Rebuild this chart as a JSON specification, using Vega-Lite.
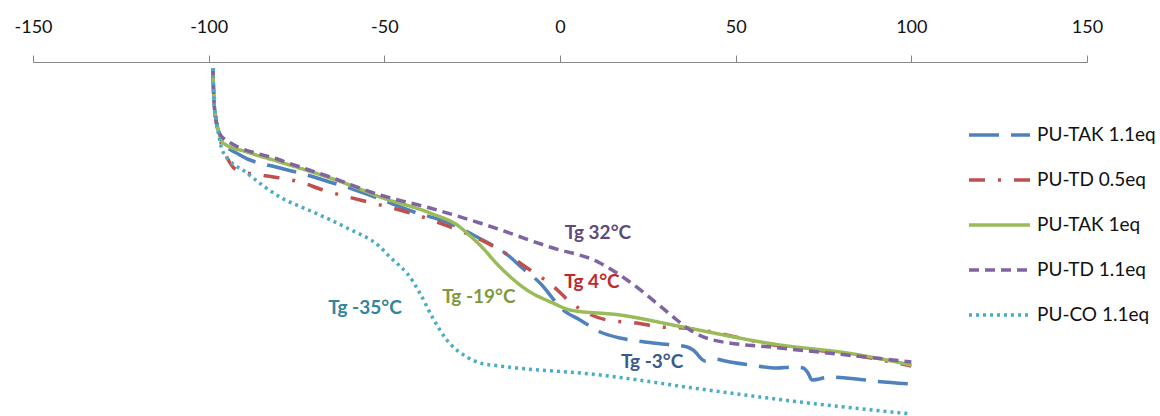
{
  "$schema": "https://vega.github.io/schema/vega-lite/v6.json",
  "width": 1054,
  "height": 354,
  "autosize": {"type": "none"},
  "padding": {"left": 33, "top": 62, "right": 73, "bottom": 0},
  "background": "white",
  "config": {"view": {"stroke": null}, "font": "Lato"},
  "datasets": {
    "curves": [
      {"sample":"PU-TAK 1.1eq","temp":-98.8,"flow":348},{"sample":"PU-TAK 1.1eq","temp":-98.5,"flow":316},{"sample":"PU-TAK 1.1eq","temp":-97.9,"flow":296},{"sample":"PU-TAK 1.1eq","temp":-97.1,"flow":284},{"sample":"PU-TAK 1.1eq","temp":-95.9,"flow":274},{"sample":"PU-TAK 1.1eq","temp":-91.1,"flow":261},{"sample":"PU-TAK 1.1eq","temp":-79.7,"flow":248},{"sample":"PU-TAK 1.1eq","temp":-72.0,"flow":241},{"sample":"PU-TAK 1.1eq","temp":-64.6,"flow":233},{"sample":"PU-TAK 1.1eq","temp":-59.8,"flow":228},{"sample":"PU-TAK 1.1eq","temp":-52.1,"flow":218},{"sample":"PU-TAK 1.1eq","temp":-40.7,"flow":203},{"sample":"PU-TAK 1.1eq","temp":-32.2,"flow":194},{"sample":"PU-TAK 1.1eq","temp":-23.6,"flow":179},{"sample":"PU-TAK 1.1eq","temp":-14.2,"flow":159},{"sample":"PU-TAK 1.1eq","temp":-11.4,"flow":150},{"sample":"PU-TAK 1.1eq","temp":-5.7,"flow":133},{"sample":"PU-TAK 1.1eq","temp":0.9,"flow":106},{"sample":"PU-TAK 1.1eq","temp":5.7,"flow":96},{"sample":"PU-TAK 1.1eq","temp":11.4,"flow":84},{"sample":"PU-TAK 1.1eq","temp":17.1,"flow":78},{"sample":"PU-TAK 1.1eq","temp":26.5,"flow":73},{"sample":"PU-TAK 1.1eq","temp":36.2,"flow":69},{"sample":"PU-TAK 1.1eq","temp":37.9,"flow":66},{"sample":"PU-TAK 1.1eq","temp":41.3,"flow":55},{"sample":"PU-TAK 1.1eq","temp":43.6,"flow":57},{"sample":"PU-TAK 1.1eq","temp":48.4,"flow":54},{"sample":"PU-TAK 1.1eq","temp":54.1,"flow":51},{"sample":"PU-TAK 1.1eq","temp":61.8,"flow":48},{"sample":"PU-TAK 1.1eq","temp":66.3,"flow":49},{"sample":"PU-TAK 1.1eq","temp":69.2,"flow":48},{"sample":"PU-TAK 1.1eq","temp":70.6,"flow":43},{"sample":"PU-TAK 1.1eq","temp":71.7,"flow":36},{"sample":"PU-TAK 1.1eq","temp":76.9,"flow":39},{"sample":"PU-TAK 1.1eq","temp":84.5,"flow":37},{"sample":"PU-TAK 1.1eq","temp":89.1,"flow":35},{"sample":"PU-TAK 1.1eq","temp":100,"flow":32},

      {"sample":"PU-TD 0.5eq","temp":-98.8,"flow":348},{"sample":"PU-TD 0.5eq","temp":-98.5,"flow":316},{"sample":"PU-TD 0.5eq","temp":-97.9,"flow":296},{"sample":"PU-TD 0.5eq","temp":-97.1,"flow":281},{"sample":"PU-TD 0.5eq","temp":-95.9,"flow":268},{"sample":"PU-TD 0.5eq","temp":-93.1,"flow":249},{"sample":"PU-TD 0.5eq","temp":-92.0,"flow":246},{"sample":"PU-TD 0.5eq","temp":-79.7,"flow":238},{"sample":"PU-TD 0.5eq","temp":-74.0,"flow":234},{"sample":"PU-TD 0.5eq","temp":-67.5,"flow":226},{"sample":"PU-TD 0.5eq","temp":-56.9,"flow":216},{"sample":"PU-TD 0.5eq","temp":-43.6,"flow":204},{"sample":"PU-TD 0.5eq","temp":-34.2,"flow":193},{"sample":"PU-TD 0.5eq","temp":-17.1,"flow":166},{"sample":"PU-TD 0.5eq","temp":-8.5,"flow":146},{"sample":"PU-TD 0.5eq","temp":-2.0,"flow":130},{"sample":"PU-TD 0.5eq","temp":2.9,"flow":114},{"sample":"PU-TD 0.5eq","temp":13.4,"flow":96},{"sample":"PU-TD 0.5eq","temp":21.9,"flow":93},{"sample":"PU-TD 0.5eq","temp":28.5,"flow":89},{"sample":"PU-TD 0.5eq","temp":35.0,"flow":88},{"sample":"PU-TD 0.5eq","temp":62.6,"flow":70},{"sample":"PU-TD 0.5eq","temp":81.7,"flow":62},{"sample":"PU-TD 0.5eq","temp":100,"flow":50},

      {"sample":"PU-TAK 1eq","temp":-98.8,"flow":348},{"sample":"PU-TAK 1eq","temp":-98.5,"flow":316},{"sample":"PU-TAK 1eq","temp":-97.9,"flow":296},{"sample":"PU-TAK 1eq","temp":-97.1,"flow":284},{"sample":"PU-TAK 1eq","temp":-95.9,"flow":273},{"sample":"PU-TAK 1eq","temp":-89.1,"flow":264},{"sample":"PU-TAK 1eq","temp":-79.7,"flow":254},{"sample":"PU-TAK 1eq","temp":-60.6,"flow":232},{"sample":"PU-TAK 1eq","temp":-51.2,"flow":219},{"sample":"PU-TAK 1eq","temp":-37.0,"flow":203},{"sample":"PU-TAK 1eq","temp":-28.5,"flow":189},{"sample":"PU-TAK 1eq","temp":-26.5,"flow":183},{"sample":"PU-TAK 1eq","temp":-22.8,"flow":171},{"sample":"PU-TAK 1eq","temp":-17.1,"flow":149},{"sample":"PU-TAK 1eq","temp":-9.4,"flow":126},{"sample":"PU-TAK 1eq","temp":-2.0,"flow":113},{"sample":"PU-TAK 1eq","temp":2.9,"flow":106},{"sample":"PU-TAK 1eq","temp":17.1,"flow":101},{"sample":"PU-TAK 1eq","temp":35.0,"flow":89},{"sample":"PU-TAK 1eq","temp":62.6,"flow":71},{"sample":"PU-TAK 1eq","temp":81.7,"flow":63},{"sample":"PU-TAK 1eq","temp":100,"flow":51},

      {"sample":"PU-TD 1.1eq","temp":-98.8,"flow":348},{"sample":"PU-TD 1.1eq","temp":-98.5,"flow":316},{"sample":"PU-TD 1.1eq","temp":-97.9,"flow":296},{"sample":"PU-TD 1.1eq","temp":-97.1,"flow":284},{"sample":"PU-TD 1.1eq","temp":-95.9,"flow":278},{"sample":"PU-TD 1.1eq","temp":-79.7,"flow":256},{"sample":"PU-TD 1.1eq","temp":-65.5,"flow":239},{"sample":"PU-TD 1.1eq","temp":-51.2,"flow":221},{"sample":"PU-TD 1.1eq","temp":-37.0,"flow":208},{"sample":"PU-TD 1.1eq","temp":-22.8,"flow":193},{"sample":"PU-TD 1.1eq","temp":-2.9,"flow":169},{"sample":"PU-TD 1.1eq","temp":11.4,"flow":153},{"sample":"PU-TD 1.1eq","temp":19.1,"flow":136},{"sample":"PU-TD 1.1eq","temp":28.5,"flow":110},{"sample":"PU-TD 1.1eq","temp":33.3,"flow":96},{"sample":"PU-TD 1.1eq","temp":37.0,"flow":86},{"sample":"PU-TD 1.1eq","temp":43.6,"flow":76},{"sample":"PU-TD 1.1eq","temp":62.6,"flow":68},{"sample":"PU-TD 1.1eq","temp":81.7,"flow":61},{"sample":"PU-TD 1.1eq","temp":100,"flow":54},

      {"sample":"PU-CO 1.1eq","temp":-98.8,"flow":348},{"sample":"PU-CO 1.1eq","temp":-98.5,"flow":316},{"sample":"PU-CO 1.1eq","temp":-97.9,"flow":296},{"sample":"PU-CO 1.1eq","temp":-97.1,"flow":280},{"sample":"PU-CO 1.1eq","temp":-95.9,"flow":264},{"sample":"PU-CO 1.1eq","temp":-89.1,"flow":243},{"sample":"PU-CO 1.1eq","temp":-79.7,"flow":219},{"sample":"PU-CO 1.1eq","temp":-70.3,"flow":204},{"sample":"PU-CO 1.1eq","temp":-60.6,"flow":188},{"sample":"PU-CO 1.1eq","temp":-51.2,"flow":169},{"sample":"PU-CO 1.1eq","temp":-48.4,"flow":159},{"sample":"PU-CO 1.1eq","temp":-45.6,"flow":150},{"sample":"PU-CO 1.1eq","temp":-43.6,"flow":143},{"sample":"PU-CO 1.1eq","temp":-39.9,"flow":123},{"sample":"PU-CO 1.1eq","temp":-36.2,"flow":98},{"sample":"PU-CO 1.1eq","temp":-32.2,"flow":76},{"sample":"PU-CO 1.1eq","temp":-26.5,"flow":59},{"sample":"PU-CO 1.1eq","temp":-22.8,"flow":53},{"sample":"PU-CO 1.1eq","temp":-17.1,"flow":50},{"sample":"PU-CO 1.1eq","temp":11.4,"flow":41},{"sample":"PU-CO 1.1eq","temp":39.9,"flow":27},{"sample":"PU-CO 1.1eq","temp":68.3,"flow":14},{"sample":"PU-CO 1.1eq","temp":100,"flow":2}
    ],
    "labels": [
      {"sample":"PU-TD 1.1eq","temp":10.8,"flow":183,"label":"Tg 32°C"},
      {"sample":"PU-TD 0.5eq","temp":9.1,"flow":134,"label":"Tg 4°C"},
      {"sample":"PU-TAK 1eq","temp":-23.1,"flow":119,"label":"Tg -19°C"},
      {"sample":"PU-CO 1.1eq","temp":-55.5,"flow":108,"label":"Tg -35°C"},
      {"sample":"PU-TAK 1.1eq","temp":26.2,"flow":54,"label":"Tg -3°C"}
    ]
  },
  "layer": [
    {
      "data": {"name": "curves"},
      "mark": {"type": "line", "strokeWidth": 3.5, "interpolate": "monotone"},
      "encoding": {
        "x": {"field": "temp", "type": "quantitative", "scale": {"domain": [-150, 150], "nice": false},
          "axis": {"orient": "top", "title": null, "values": [-150, -100, -50, 0, 50, 100, 150], "grid": false,
            "domainColor": "#868686", "tickColor": "#868686", "tickSize": 7, "labelPadding": 19,
            "labelFontSize": 18, "labelFont": "Lato", "labelColor": "#111111", "labelFlush": false, "labelOverlap": false,
            "labelExpr": "replace(datum.label, '−', '-')"}},
        "y": {"field": "flow", "type": "quantitative", "scale": {"domain": [0, 354], "nice": false, "zero": false}, "axis": null},
        "color": {"field": "sample", "type": "nominal",
          "scale": {"domain": ["PU-TAK 1.1eq", "PU-TD 0.5eq", "PU-TAK 1eq", "PU-TD 1.1eq", "PU-CO 1.1eq"],
            "range": ["#4F81BD", "#C0504D", "#9BBB59", "#8064A2", "#4BACC6"]},
          "legend": {"orient": "none", "legendX": 934, "legendY": 63, "title": null, "symbolType": "stroke",
            "symbolSize": 3721, "symbolStrokeWidth": 3.5, "labelFontSize": 19, "labelFont": "Lato", "labelColor": "#111111",
            "rowPadding": 25, "labelOffset": 5, "clipHeight": 20}},
        "strokeDash": {"field": "sample", "type": "nominal",
          "scale": {"domain": ["PU-TAK 1.1eq", "PU-TD 0.5eq", "PU-TAK 1eq", "PU-TD 1.1eq", "PU-CO 1.1eq"],
            "range": [[30, 12], [16, 13, 3, 13], [1, 0], [10, 6], [3, 4]]},
          "legend": {"orient": "none", "legendX": 934, "legendY": 63, "title": null, "symbolType": "stroke",
            "symbolSize": 3721, "symbolStrokeWidth": 3.5, "labelFontSize": 19, "labelFont": "Lato", "labelColor": "#111111",
            "rowPadding": 25, "labelOffset": 5, "clipHeight": 20}}
      }
    },
    {
      "data": {"name": "labels"},
      "mark": {"type": "text", "fontSize": 19, "fontWeight": "bold", "font": "Lato", "align": "center", "baseline": "middle"},
      "encoding": {
        "x": {"field": "temp", "type": "quantitative"},
        "y": {"field": "flow", "type": "quantitative"},
        "text": {"field": "label"},
        "fill": {"field": "sample", "type": "nominal",
          "scale": {"domain": ["PU-TAK 1.1eq", "PU-TD 0.5eq", "PU-TAK 1eq", "PU-TD 1.1eq", "PU-CO 1.1eq"],
            "range": ["#3A5A8C", "#C0282E", "#7F9A3E", "#5F4A7B", "#31859C"]},
          "legend": null}
      }
    }
  ]
}
